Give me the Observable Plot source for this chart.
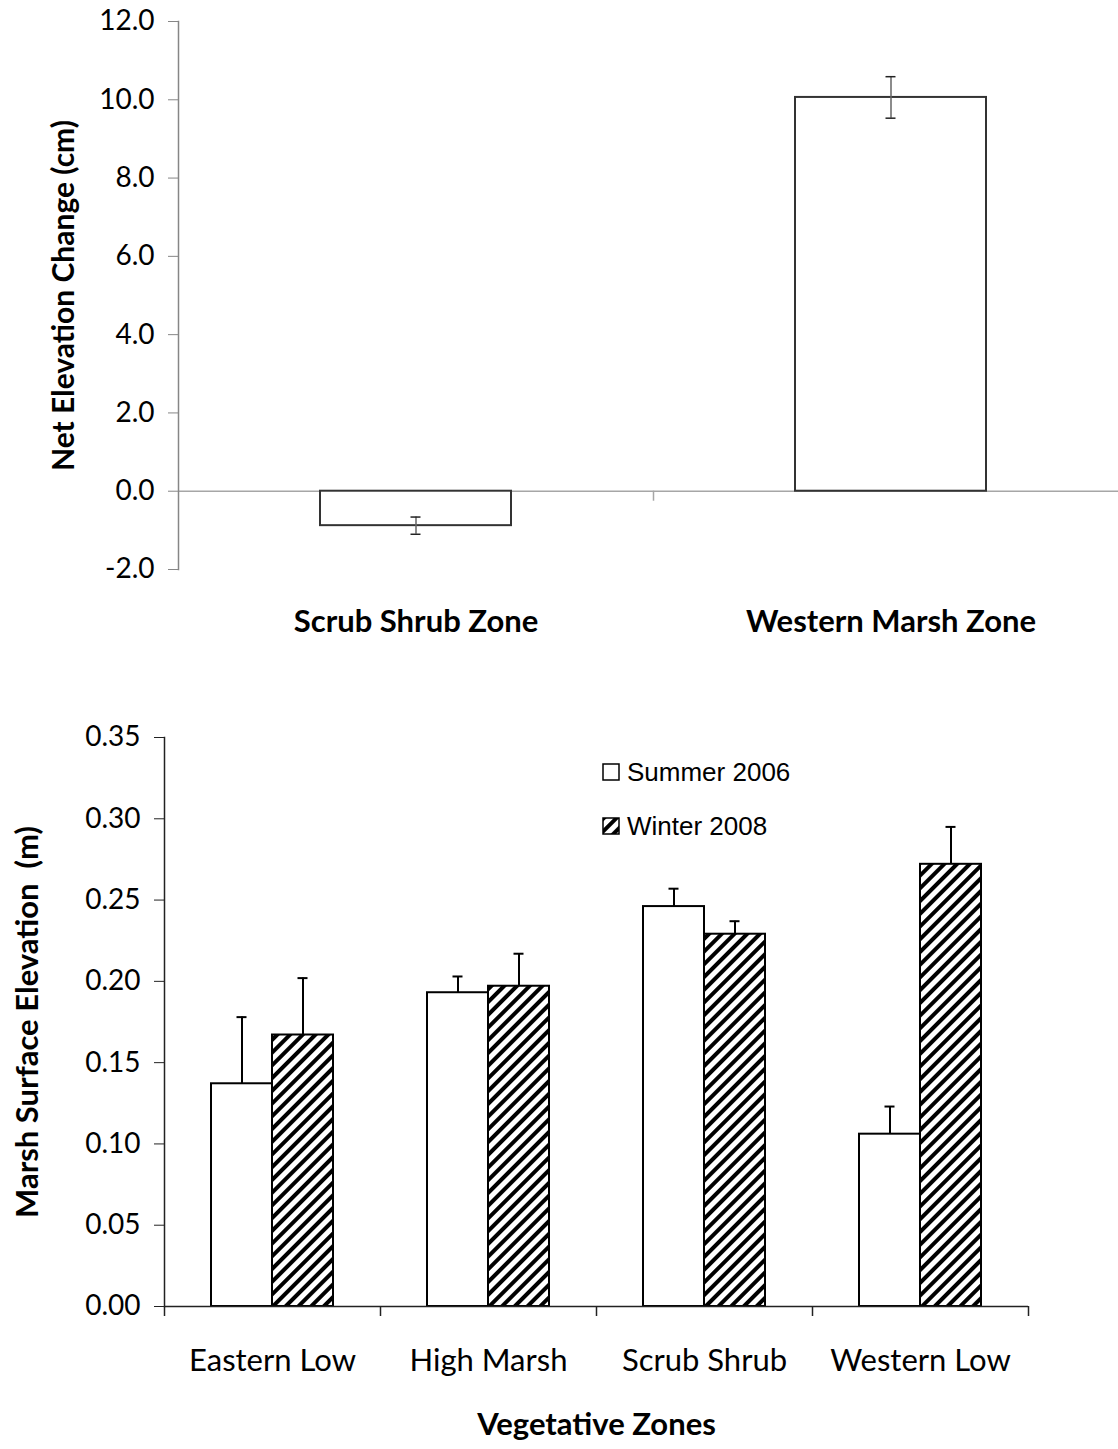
<!DOCTYPE html>
<html>
<head>
<meta charset="utf-8">
<script src="https://cdn.jsdelivr.net/npm/d3@7"></script>
<script src="https://cdn.jsdelivr.net/npm/@observablehq/plot@0.6"></script>
<style>
  html, body { margin: 0; padding: 0; background: white; }
  #wrap { position: relative; width: 1118px; height: 1449px; overflow: hidden; }
  #wrap svg { display: block; }
  #wrap svg text { white-space: pre; }
  .legend { position: absolute; left: 602px; font-family: "Liberation Sans", Arial, sans-serif; font-size: 26px; color: black; display: flex; align-items: center; line-height: 1; }
  .legend svg { margin-right: 7px; }
</style>
</head>
<body>
<div id="wrap"></div>
<script>
// ---- Top chart data ----
const topZones = ["Scrub Shrub Zone", "Western Marsh Zone"];
const netChange = [-0.88, 10.06];
const netErr = [0.22, 0.53];
const topTicks = [-2, 0, 2, 4, 6, 8, 10, 12];

// ---- Bottom chart data ----
const zones = ["Eastern Low", "High Marsh", "Scrub Shrub", "Western Low"];
const seriesNames = ["Summer 2006", "Winter 2008"];
const summer = [0.137, 0.193, 0.246, 0.106];
const summerErr = [0.041, 0.010, 0.011, 0.017];
const winter = [0.167, 0.197, 0.229, 0.272];
const winterErr = [0.035, 0.020, 0.008, 0.023];
const bottomTicks = [0, 0.05, 0.10, 0.15, 0.20, 0.25, 0.30, 0.35];

const wrap = document.getElementById("wrap");
const FONT = "Lato, 'Open Sans', sans-serif";

const topData = topZones.map((z, i) => ({zone: z, value: netChange[i], err: netErr[i]}));

const topPlot = Plot.plot({
  width: 1118, height: 660,
  marginTop: 21, marginBottom: 91, marginLeft: 178, marginRight: 0,
  style: {fontFamily: FONT, background: "white", color: "black", overflow: "visible"},
  x: {domain: topZones, range: [178, 1128], padding: 0, axis: null},
  y: {domain: [-2, 12], axis: null},
  marks: [
    Plot.ruleY([0], {stroke: "#a6a6a6", strokeWidth: 1.5}),
    Plot.ruleX([topZones[1]], {x: d => d, y1: 0, y2: 0, insetBottom: -10, dx: -237.5, stroke: "#a6a6a6", strokeWidth: 1.5}),
    Plot.barY(topData, {x: "zone", y: "value", fill: "white", stroke: "#333", strokeWidth: 2, insetLeft: 142, insetRight: 142}),
    Plot.ruleX(topData, {x: "zone", y1: d => d.value - d.err, y2: d => d.value + d.err, stroke: "#666", strokeWidth: 1.5}),
    Plot.tickY(topData, {x: "zone", y: d => d.value + d.err, insetLeft: 232.5, insetRight: 232.5, stroke: "#222", strokeWidth: 1.5}),
    Plot.tickY(topData, {x: "zone", y: d => d.value - d.err, insetLeft: 232.5, insetRight: 232.5, stroke: "#222", strokeWidth: 1.5}),
    Plot.frame({anchor: "left", stroke: "#868686", strokeWidth: 1.5}),
    Plot.axisY({ticks: topTicks, tickFormat: d => d.toFixed(1), tickSize: 10, tickPadding: 14, fontSize: 28, stroke: "#868686", fill: "black", label: null}),
    Plot.axisX({tickSize: 0, tickPadding: 40, fontSize: 31, fontWeight: "bold", label: null}),
    Plot.text(["Net Elevation Change (cm)"], {frameAnchor: "left", textAnchor: "middle", lineAnchor: "middle", rotate: -90, dx: -114, fontSize: 30, fontWeight: "bold", fill: "black"})
  ]
});
wrap.appendChild(topPlot);

const bottomData = zones.map((z, i) => ({
  zone: z, summer: summer[i], summerErr: summerErr[i], winter: winter[i], winterErr: winterErr[i]
}));

const bottomPlot = Plot.plot({
  width: 1118, height: 789,
  marginTop: 77, marginBottom: 143, marginLeft: 164, marginRight: 90,
  style: {fontFamily: FONT, background: "white", color: "black", overflow: "visible"},
  x: {domain: zones, padding: 0, axis: null},
  y: {domain: [0, 0.35], axis: null},
  marks: [
    Plot.barY(bottomData, {x: "zone", y: "summer", fill: "white", stroke: "black", strokeWidth: 2, insetLeft: 47, insetRight: 108}),
    Plot.barY(bottomData, {x: "zone", y: "winter", fill: "url(#hatch)", stroke: "black", strokeWidth: 2, insetLeft: 108, insetRight: 47}),
    Plot.ruleX(bottomData, {x: "zone", y1: "summer", y2: d => d.summer + d.summerErr, dx: -30.5, stroke: "black", strokeWidth: 2}),
    Plot.tickY(bottomData, {x: "zone", y: d => d.summer + d.summerErr, insetLeft: 72.5, insetRight: 133.5, stroke: "black", strokeWidth: 2}),
    Plot.ruleX(bottomData, {x: "zone", y1: "winter", y2: d => d.winter + d.winterErr, dx: 30.5, stroke: "black", strokeWidth: 2}),
    Plot.tickY(bottomData, {x: "zone", y: d => d.winter + d.winterErr, insetLeft: 133.5, insetRight: 72.5, stroke: "black", strokeWidth: 2}),
    Plot.ruleY([0], {stroke: "#222", strokeWidth: 1.5}),
    Plot.ruleX(zones, {x: d => d, y1: 0, y2: 0, insetBottom: -10, dx: -108, stroke: "#222", strokeWidth: 1.5}),
    Plot.ruleX([zones[zones.length - 1]], {x: d => d, y1: 0, y2: 0, insetBottom: -10, dx: 108, stroke: "#222", strokeWidth: 1.5}),
    Plot.frame({anchor: "left", stroke: "#222", strokeWidth: 1.5}),
    Plot.axisY({ticks: bottomTicks, tickFormat: d => d.toFixed(2), tickSize: 10, tickPadding: 14, fontSize: 28, stroke: "#222", fill: "black", label: null}),
    Plot.axisX({tickSize: 0, tickPadding: 42, fontSize: 31, label: null}),
    Plot.text(["Marsh Surface Elevation  (m)"], {frameAnchor: "left", textAnchor: "middle", lineAnchor: "middle", rotate: -90, dx: -136, fontSize: 31, fontWeight: "bold", fill: "black"}),
    Plot.text(["Vegetative Zones"], {frameAnchor: "bottom", lineAnchor: "middle", dy: 119, fontSize: 31, fontWeight: "bold", fill: "black"})
  ]
});

// hatch pattern definition
const defs = d3.select(bottomPlot).insert("defs", ":first-child");
const pat = defs.append("pattern")
  .attr("id", "hatch").attr("patternUnits", "userSpaceOnUse")
  .attr("width", 9).attr("height", 9)
  .attr("patternTransform", "rotate(45)");
pat.append("rect").attr("width", 9).attr("height", 9).attr("fill", "white");
pat.append("rect").attr("width", 4).attr("height", 9).attr("fill", "black");
wrap.appendChild(bottomPlot);

// legend
const legendTops = [762, 816];
seriesNames.forEach((name, i) => {
  const item = document.createElement("div");
  item.className = "legend";
  item.style.top = (legendTops[i] - 3) + "px";
  const fill = i === 0 ? "white" : "url(#hatch)";
  item.innerHTML = `<svg width="18" height="18"><rect x="1" y="1" width="16" height="16" fill="${fill}" stroke="black" stroke-width="1.5"/></svg><span>${name}</span>`;
  wrap.appendChild(item);
});
</script>
</body>
</html>
